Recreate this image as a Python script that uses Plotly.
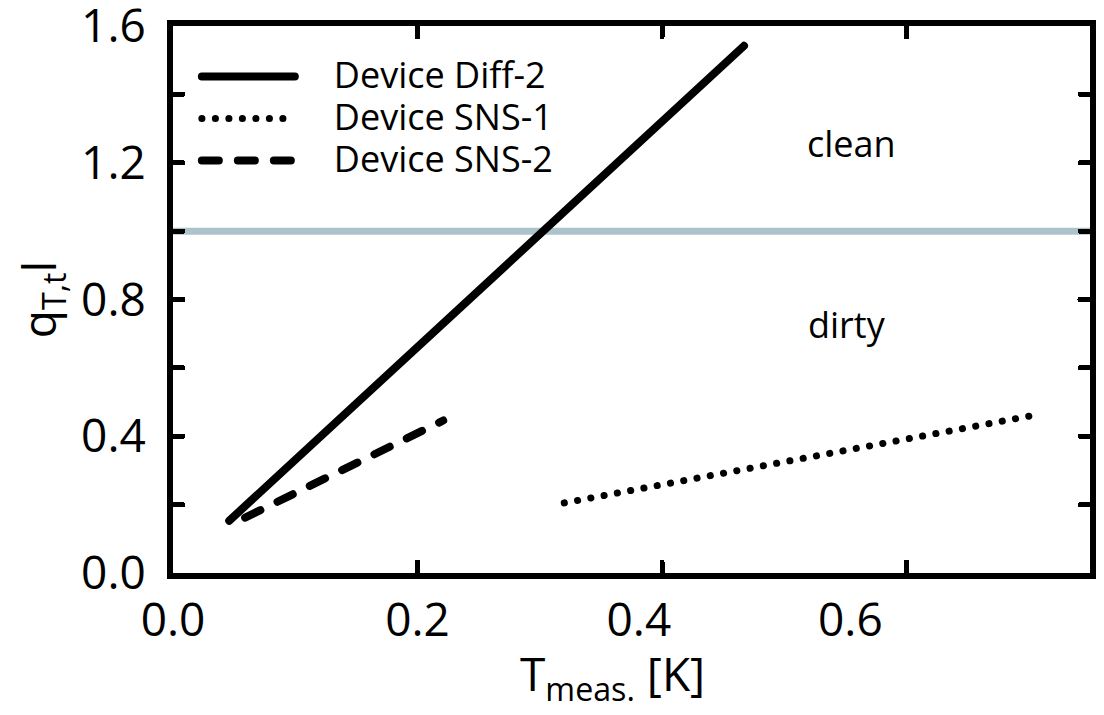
import plotly.graph_objects as go

# Measured crossover temperature data (T in K, q_{T,t} l dimensionless)
diff2_T = [0.046, 0.467]
diff2_q = [0.153, 1.542]

sns1_T = [0.320, 0.702]
sns1_q = [0.205, 0.460]

sns2_T = [0.059, 0.221]
sns2_q = [0.162, 0.446]

# clean / dirty boundary
boundary_q = 1.0

# axis ticks and labels
x_tick_marks = [0.2, 0.4, 0.6]
x_label_pos = [0.0, 0.2, 0.381, 0.554]
x_label_text = ["0.0", "0.2", "0.4", "0.6"]
y_tick_vals = [0.0, 0.2, 0.4, 0.6, 0.8, 1.0, 1.2, 1.4, 1.6]
y_tick_text = ["0.0", "", "0.4", "", "0.8", "", "1.2", "", "1.6"]

FONT = "Open Sans"
PAD = "\u00a0\u00a0\u00a0\u2009"

fig = go.Figure()
fig.add_trace(go.Scatter(x=diff2_T, y=diff2_q, mode="lines", name=PAD + "Device Diff-2",
                         line=dict(color="black", width=8)))
fig.add_trace(go.Scatter(x=sns1_T, y=sns1_q, mode="lines", name=PAD + "Device SNS-1",
                         line=dict(color="black", width=7, dash="0.1px,13.4px")))
fig.add_trace(go.Scatter(x=sns2_T, y=sns2_q, mode="lines", name=PAD + "Device SNS-2",
                         line=dict(color="black", width=8, dash="17px,19px")))

fig.add_hline(y=boundary_q, line=dict(color="#adc3cb", width=7), layer="below")

fig.add_annotation(x=0.555, y=1.256, text="clean", showarrow=False,
                   font=dict(size=36, color="black", family=FONT))
fig.add_annotation(x=0.551, y=0.726, text="dirty", showarrow=False,
                   font=dict(size=36, color="black", family=FONT))

# x-axis title, set slightly left of the plot centre
fig.add_annotation(xref="paper", yref="paper", x=0.479, y=0, xanchor="center", yanchor="top",
                   yshift=-67, text="T<sub>meas.</sub> [K]", showarrow=False,
                   font=dict(size=46, color="black", family=FONT))

fig.update_layout(
    width=1104, height=715,
    margin=dict(l=173, r=14, t=26, b=142, autoexpand=False),
    paper_bgcolor="white", plot_bgcolor="white",
    font=dict(family=FONT, color="black"),
    showlegend=True,
    legend=dict(x=0.026, y=0.955, xanchor="left", yanchor="top",
                bgcolor="rgba(0,0,0,0)", font=dict(size=30, family=FONT),
                itemwidth=93, tracegroupgap=0),
)

fig.update_xaxes(
    range=[0, 0.75], showgrid=False, zeroline=False, automargin=False,
    showline=True, linecolor="black", linewidth=6, mirror="allticks",
    tickmode="array", tickvals=x_label_pos, ticktext=x_label_text,
    ticks="inside", ticklen=0, tickfont=dict(size=46, family=FONT),
    ticklabelstandoff=2, ticklabeloverflow="allow",
    minor=dict(tickmode="array", tickvals=x_tick_marks, ticks="inside",
               ticklen=11, tickwidth=5, tickcolor="black"),
)
fig.update_yaxes(
    range=[0, 1.6], showgrid=False, zeroline=False, automargin=False,
    showline=True, linecolor="black", linewidth=6, mirror="allticks",
    tickmode="array", tickvals=y_tick_vals, ticktext=y_tick_text,
    ticks="inside", ticklen=10, tickwidth=5, tickcolor="black",
    tickfont=dict(size=46, family=FONT), ticklabelstandoff=12,
    ticklabeloverflow="allow",
    title=dict(text="q<sub>T,t</sub>l", font=dict(size=46, family=FONT), standoff=12),
)

# rounded line ends for dots/dashes/ticks; legend labels set a little larger
# than the row pitch that plotly derives from the legend font size
page_css = (
    "var s=document.createElement('style');"
    "s.textContent='path.js-line{stroke-linecap:round;} path.ticks{stroke-linecap:round;}"
    " text.legendtext{font-size:36px !important;}"
    " g.scrollbox{clip-path:none !important;}';"
    "document.head.appendChild(s);"
)
fig.write_html("out.html", post_script=page_css)
